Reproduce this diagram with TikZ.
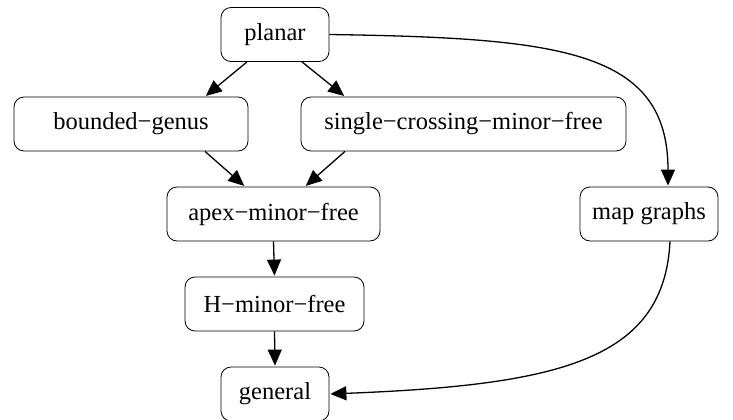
\documentclass[tikz,border=0pt]{standalone}
\usepackage{fontspec}
\setmainfont{Liberation Serif}
\usetikzlibrary{arrows.meta,calc}
\begin{document}
\begin{tikzpicture}[x=1pt,y=-1pt,
  box/.style={draw, rounded corners=10pt, line width=0.8pt, font=\fontsize{24.5}{28}\selectfont, minimum height=54pt, inner sep=0pt},
  arr/.style={line width=1.3pt, -{Triangle[length=16pt,width=14pt]}, shorten >=1pt}]
\useasboundingbox (0,0) rectangle (733,420);
\node[box, minimum width=108pt] (planar) at (275,34.5) {planar};
\node[box, minimum width=234pt] (bg) at (131,124) {bounded−genus};
\node[box, minimum width=325pt] (sc) at (463.5,124) {single−crossing−minor−free};
\node[box, minimum width=213pt] (apex) at (273.5,214) {apex−minor−free};
\node[box, minimum width=138pt] (map) at (649,214) {map graphs};
\node[box, minimum width=179pt] (H) at (274.5,304) {H−minor−free};
\node[box, minimum width=108pt] (gen) at (275,394) {general};
\draw[arr] ($(planar.south)+(-28,0)$) -- ($(bg.north)+(74,0)$);
\draw[arr] ($(planar.south)+(27,0)$) -- ($(sc.north)+(-118.5,0)$);
\draw[arr] ($(bg.south)+(74,0)$) -- ($(apex.north)+(-28.5,0)$);
\draw[arr] ($(sc.south)+(-118.5,0)$) -- ($(apex.north)+(31.5,0)$);
\draw[arr] (apex.south) -- (H.north);
\draw[arr] (H.south) -- (gen.north);
\draw[arr] (planar.east) .. controls (560,38) and (668,50) .. ($(map.north)+(19,0)$);
\draw[arr] ($(map.south)+(21,0)$) .. controls (664,360) and (560,385) .. (gen.east);
\end{tikzpicture}
\end{document}
